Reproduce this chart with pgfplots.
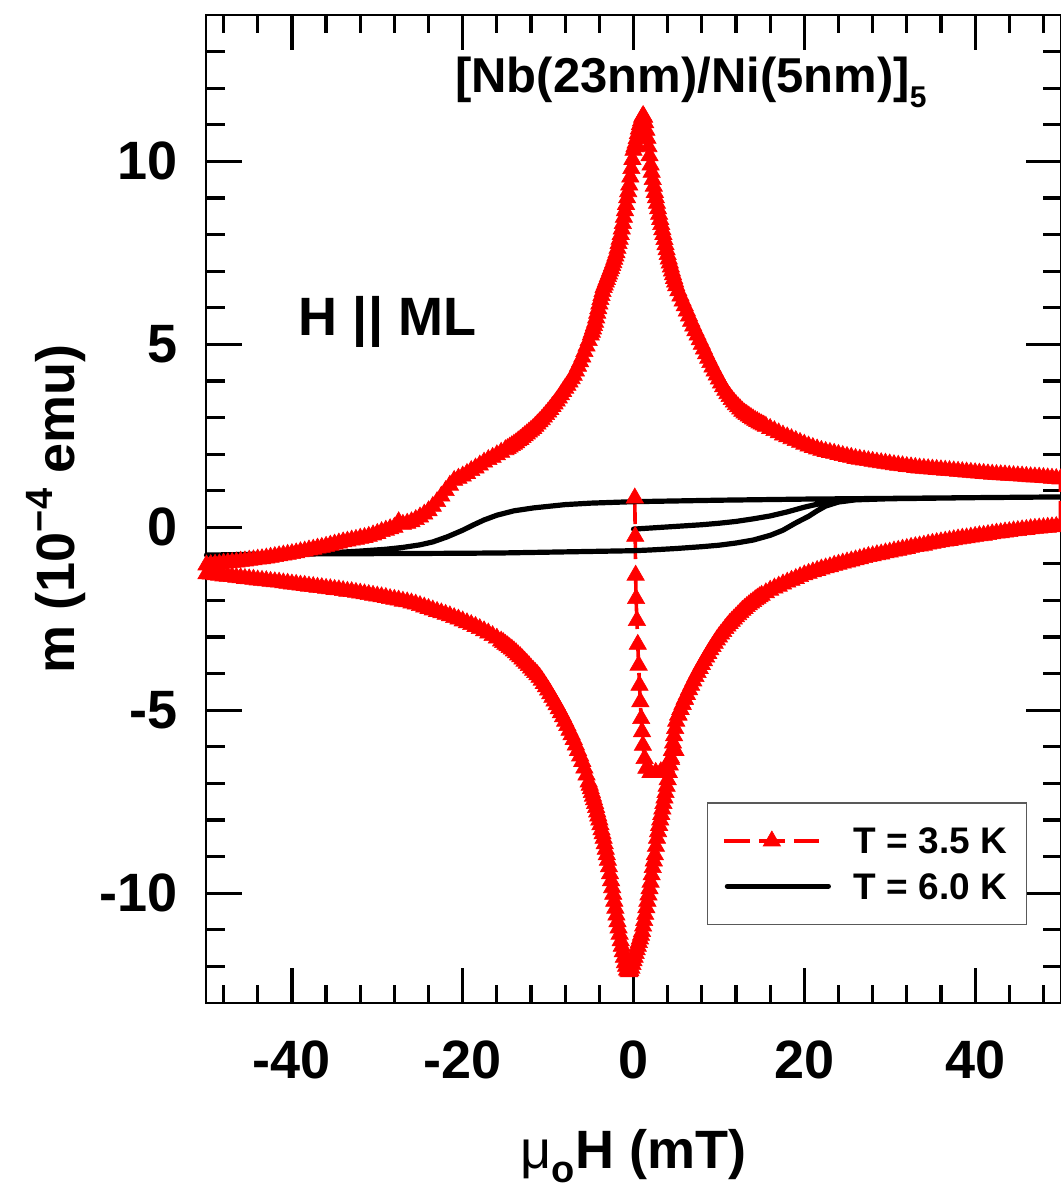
\documentclass[border=0pt]{standalone}
\usepackage{fontspec}
\setmainfont{Liberation Sans}
\usepackage{pgfplots}
\pgfplotsset{compat=1.18}

% legend samples: dashed line with a triangle, and a plain thick line
\pgfplotsset{
  redleg/.style={legend image code/.code={\draw[mark repeat=2,mark phase=2,##1]
    plot coordinates {(0pt,0pt) (23.75pt,0pt) (47.5pt,0pt)};}},
  blackleg/.style={legend image code/.code={\draw[##1] (1.5pt,0pt) -- (52pt,0pt);}},
}

% magnetisation loop at 3.5 K: virgin curve, rising branch, falling branch, rising branch
\pgfplotstableread{
x y
0.15 0.80
0.20 -0.25
0.25 -1.31
0.30 -1.95
0.40 -2.55
0.50 -3.20
0.60 -3.77
0.70 -4.32
0.80 -4.77
0.90 -5.23
1.00 -5.59
1.10 -5.96
1.30 -6.32
1.50 -6.59
2.00 -6.70
2.60 -6.70
3.20 -6.68
3.80 -6.55
4.40 -6.35
4.90 -6.10
5.25 -5.13
5.5 -4.98
5.75 -4.84
6.0 -4.70
6.25 -4.57
6.5 -4.44
6.75 -4.32
7.0 -4.20
7.25 -4.08
7.5 -3.97
7.75 -3.86
8.0 -3.75
8.25 -3.65
8.5 -3.55
8.75 -3.45
9.0 -3.35
9.25 -3.26
9.5 -3.17
9.75 -3.08
10.0 -3.00
10.25 -2.92
10.5 -2.85
10.75 -2.77
11.0 -2.70
11.25 -2.63
11.5 -2.57
11.75 -2.51
12.0 -2.45
12.25 -2.39
12.5 -2.33
12.75 -2.27
13.0 -2.22
13.25 -2.17
13.5 -2.12
13.75 -2.07
14.0 -2.03
14.25 -1.98
14.5 -1.94
14.75 -1.90
15.0 -1.86
15.5 -1.79
16 -1.72
16.5 -1.66
17 -1.61
17.5 -1.55
18 -1.50
18.5 -1.45
19 -1.40
19.5 -1.35
20 -1.30
20.5 -1.26
21 -1.22
21.5 -1.18
22 -1.14
22.5 -1.11
23 -1.08
23.5 -1.04
24 -1.01
24.5 -0.98
25 -0.95
25.5 -0.92
26 -0.89
26.5 -0.86
27 -0.83
27.5 -0.80
28 -0.78
28.5 -0.75
29 -0.73
29.5 -0.70
30 -0.68
30.5 -0.65
31 -0.63
31.5 -0.60
32 -0.58
32.5 -0.55
33 -0.53
33.5 -0.51
34 -0.49
34.5 -0.46
35 -0.44
35.5 -0.42
36 -0.40
36.5 -0.38
37 -0.36
37.5 -0.34
38 -0.32
38.5 -0.30
39 -0.29
39.5 -0.27
40 -0.25
40.5 -0.23
41 -0.22
41.5 -0.20
42 -0.18
42.5 -0.16
43 -0.15
43.5 -0.13
44 -0.12
44.5 -0.10
45 -0.09
45.5 -0.07
46 -0.06
46.5 -0.04
47 -0.03
47.5 -0.02
48 -0.01
48.5 0.00
49 0.01
49.5 0.02
50 0.03
50 1.32
49.5 1.33
49 1.34
48.5 1.35
48 1.36
47.5 1.37
47 1.375
46.5 1.38
46 1.39
45.5 1.40
45 1.405
44.5 1.41
44 1.42
43.5 1.43
43 1.435
42.5 1.44
42 1.45
41.5 1.46
41 1.47
40.5 1.48
40 1.49
39.5 1.50
39 1.51
38.5 1.52
38 1.53
37.5 1.54
37 1.55
36.5 1.56
36 1.57
35.5 1.58
35 1.59
34.5 1.60
34 1.61
33.5 1.62
33 1.635
32.5 1.65
32 1.66
31.5 1.68
31 1.695
30.5 1.71
30 1.73
29.5 1.75
29 1.765
28.5 1.78
28 1.80
27.5 1.82
27 1.84
26.5 1.86
26 1.88
25.5 1.91
25 1.935
24.5 1.96
24 1.99
23.5 2.02
23 2.045
22.5 2.07
22 2.10
21.5 2.14
21 2.18
20.5 2.22
20 2.27
19.5 2.32
19 2.37
18.5 2.42
18 2.47
17.5 2.52
17 2.58
16.5 2.64
16 2.70
15.5 2.76
15.25 2.79
15 2.82
14.75 2.85
14.5 2.89
14.25 2.92
14 2.96
13.75 3.00
13.5 3.04
13.25 3.08
13 3.12
12.75 3.17
12.5 3.23
12.25 3.29
12 3.35
11.75 3.42
11.5 3.49
11.25 3.57
11 3.65
10.75 3.74
10.5 3.84
10.25 3.94
10 4.05
9.75 4.16
9.5 4.27
9.25 4.38
9 4.50
8.75 4.62
8.5 4.74
8.25 4.87
8 5.00
7.75 5.12
7.5 5.25
7.25 5.37
7 5.50
6.75 5.63
6.5 5.77
6.25 5.91
6 6.05
5.75 6.18
5.5 6.32
5.25 6.46
5 6.60
4.875 6.70
4.75 6.80
4.625 6.90
4.5 7.00
4.375 7.11
4.25 7.22
4.125 7.33
4 7.45
3.875 7.58
3.75 7.72
3.625 7.86
3.5 8.00
3.375 8.13
3.25 8.27
3.125 8.41
3 8.55
2.875 8.70
2.75 8.85
2.625 9.00
2.5 9.15
2.375 9.32
2.25 9.50
2.125 9.70
2 9.90
1.875 10.15
1.75 10.40
1.625 10.63
1.5 10.85
1.375 11.05
1.25 11.20
1.125 11.25
1 11.20
0.875 11.10
0.75 11.00
0.625 10.88
0.5 10.75
0.375 10.62
0.25 10.50
0.125 10.40
0 10.30
-0.125 10.05
-0.25 9.80
-0.375 9.57
-0.5 9.35
-0.625 9.17
-0.75 9.00
-0.875 8.82
-1 8.65
-1.125 8.47
-1.25 8.30
-1.375 8.15
-1.5 8.00
-1.625 7.87
-1.75 7.75
-1.875 7.62
-2 7.50
-2.125 7.41
-2.25 7.32
-2.375 7.23
-2.5 7.15
-2.625 7.07
-2.75 7.00
-2.875 6.92
-3 6.85
-3.125 6.77
-3.25 6.70
-3.375 6.62
-3.5 6.55
-3.625 6.44
-3.75 6.33
-3.875 6.22
-4 6.10
-4.125 5.97
-4.25 5.85
-4.375 5.72
-4.5 5.60
-4.625 5.51
-4.75 5.42
-4.875 5.33
-5 5.25
-5.25 5.10
-5.5 4.95
-5.75 4.80
-6 4.65
-6.25 4.52
-6.5 4.40
-6.75 4.27
-7 4.15
-7.25 4.06
-7.5 3.97
-7.75 3.88
-8 3.80
-8.25 3.71
-8.5 3.62
-8.75 3.53
-9 3.45
-9.25 3.37
-9.5 3.30
-9.75 3.22
-10 3.15
-10.25 3.08
-10.5 3.01
-10.75 2.94
-11 2.88
-11.25 2.82
-11.5 2.76
-11.75 2.70
-12 2.65
-12.25 2.60
-12.5 2.55
-12.75 2.50
-13 2.45
-13.25 2.40
-13.5 2.36
-13.75 2.31
-14 2.27
-14.25 2.23
-14.5 2.19
-14.75 2.15
-15 2.12
-15.5 2.05
-16 1.98
-16.5 1.91
-17 1.85
-17.5 1.78
-18 1.70
-18.5 1.62
-19 1.55
-19.5 1.47
-20 1.40
-20.5 1.34
-21 1.28
-21.5 1.15
-22 1.00
-22.5 0.85
-23 0.70
-23.5 0.57
-24 0.45
-24.5 0.36
-25 0.28
-25.5 0.21
-26 0.15
-26.5 0.11
-27 0.08
-27.5 0.15
-28 0.00
-28.5 -0.04
-29 -0.08
-29.5 -0.12
-30 -0.17
-30.5 -0.21
-31 -0.25
-31.5 -0.28
-32 -0.30
-32.5 -0.33
-33 -0.35
-33.5 -0.38
-34 -0.40
-34.5 -0.43
-35 -0.46
-35.5 -0.49
-36 -0.52
-36.5 -0.55
-37 -0.57
-37.5 -0.60
-38 -0.62
-38.5 -0.65
-39 -0.67
-39.5 -0.70
-40 -0.72
-40.5 -0.74
-41 -0.76
-41.5 -0.78
-42 -0.80
-42.5 -0.82
-43 -0.84
-43.5 -0.86
-44 -0.87
-44.5 -0.89
-45 -0.90
-45.5 -0.92
-46 -0.93
-46.5 -0.95
-47 -0.96
-47.5 -0.97
-48 -0.98
-48.5 -1.00
-49 -1.01
-49.5 -1.02
-50 -1.03
-50 -1.27
-49.5 -1.28
-49 -1.30
-48.5 -1.31
-48 -1.33
-47.5 -1.34
-47 -1.35
-46.5 -1.37
-46 -1.38
-45.5 -1.40
-45 -1.41
-44.5 -1.42
-44 -1.44
-43.5 -1.45
-43 -1.46
-42.5 -1.48
-42 -1.49
-41.5 -1.50
-41 -1.52
-40.5 -1.53
-40 -1.55
-39.5 -1.56
-39 -1.58
-38.5 -1.59
-38 -1.61
-37.5 -1.62
-37 -1.64
-36.5 -1.65
-36 -1.67
-35.5 -1.68
-35 -1.70
-34.5 -1.71
-34 -1.73
-33.5 -1.75
-33 -1.76
-32.5 -1.78
-32 -1.80
-31.5 -1.82
-31 -1.84
-30.5 -1.86
-30 -1.88
-29.5 -1.90
-29 -1.92
-28.5 -1.95
-28 -1.97
-27.5 -1.99
-27 -2.02
-26.5 -2.04
-26 -2.07
-25.5 -2.10
-25 -2.14
-24.5 -2.18
-24 -2.22
-23.5 -2.26
-23 -2.30
-22.5 -2.34
-22 -2.38
-21.5 -2.42
-21 -2.47
-20.5 -2.51
-20 -2.56
-19.5 -2.61
-19 -2.66
-18.5 -2.71
-18 -2.77
-17.5 -2.83
-17 -2.89
-16.5 -2.96
-16 -3.03
-15.5 -3.11
-15.25 -3.15
-15 -3.20
-14.75 -3.24
-14.5 -3.29
-14.25 -3.33
-14 -3.38
-13.75 -3.43
-13.5 -3.49
-13.25 -3.54
-13 -3.60
-12.75 -3.66
-12.5 -3.72
-12.25 -3.78
-12 -3.85
-11.75 -3.91
-11.5 -3.97
-11.25 -4.03
-11 -4.10
-10.75 -4.18
-10.5 -4.27
-10.25 -4.36
-10 -4.45
-9.75 -4.55
-9.5 -4.65
-9.25 -4.75
-9 -4.85
-8.75 -4.96
-8.5 -5.07
-8.25 -5.18
-8 -5.30
-7.75 -5.42
-7.5 -5.55
-7.25 -5.67
-7 -5.80
-6.75 -5.95
-6.5 -6.10
-6.25 -6.25
-6 -6.40
-5.75 -6.58
-5.5 -6.77
-5.25 -6.96
-5.125 -7.05
-5 -7.15
-4.875 -7.25
-4.75 -7.35
-4.625 -7.45
-4.5 -7.55
-4.375 -7.66
-4.25 -7.78
-4.125 -7.89
-4 -8.00
-3.875 -8.13
-3.75 -8.27
-3.625 -8.38
-3.5 -8.50
-3.375 -8.65
-3.25 -8.80
-3.125 -8.95
-3 -9.10
-2.875 -9.28
-2.75 -9.47
-2.625 -9.66
-2.5 -9.85
-2.375 -10.03
-2.25 -10.22
-2.125 -10.41
-2 -10.60
-1.875 -10.78
-1.75 -10.95
-1.625 -11.12
-1.5 -11.30
-1.375 -11.45
-1.25 -11.60
-1.125 -11.75
-1 -11.90
-0.875 -12.00
-0.75 -12.10
-0.625 -12.13
-0.5 -12.15
-0.375 -12.12
-0.25 -12.05
-0.125 -11.95
0 -11.85
0.125 -11.75
0.25 -11.65
0.375 -11.55
0.5 -11.45
0.625 -11.35
0.75 -11.25
0.875 -11.15
1.0 -11.05
1.125 -10.90
1.25 -10.75
1.375 -10.58
1.5 -10.40
1.625 -10.22
1.75 -10.05
1.875 -9.88
2.0 -9.70
2.125 -9.50
2.25 -9.30
2.375 -9.12
2.5 -8.95
2.625 -8.72
2.75 -8.50
2.875 -8.32
3.0 -8.15
3.125 -8.00
3.25 -7.85
3.375 -7.70
3.5 -7.55
3.625 -7.40
3.75 -7.25
3.875 -7.08
4.0 -6.90
4.125 -6.70
4.25 -6.50
4.375 -6.30
4.5 -6.10
4.625 -5.90
4.75 -5.70
4.875 -5.50
5.0 -5.30
5.25 -5.13
5.5 -4.98
5.75 -4.84
6.0 -4.70
}\lowT

% magnetisation loop at 6.0 K
\pgfplotstableread{
x y
0 -0.05
2 -0.02
4 0.01
6 0.04
8 0.07
10 0.11
12 0.16
14 0.23
16 0.31
18 0.42
20 0.55
21.5 0.63
23 0.70
25 0.75
30 0.78
35 0.80
40 0.81
45 0.82
50 0.83
40 0.81
30 0.79
20 0.77
10 0.74
5 0.72
0 0.70
-5 0.66
-8 0.62
-11.7 0.53
-14 0.45
-16 0.33
-17.5 0.20
-18.7 0.07
-20 -0.08
-21.8 -0.26
-23.5 -0.40
-25 -0.48
-27 -0.55
-29 -0.60
-32 -0.65
-35 -0.69
-40 -0.72
-45 -0.74
-50 -0.76
-40 -0.73
-30 -0.72
-20 -0.71
-15 -0.70
-10 -0.68
-5 -0.66
0 -0.64
2 -0.62
5 -0.58
8 -0.53
10 -0.49
12 -0.43
14 -0.35
16 -0.22
17.5 -0.08
19 0.12
20.5 0.30
21.5 0.45
22.5 0.58
24 0.69
26 0.75
30 0.78
40 0.81
50 0.83
}\highT

\begin{document}
\begin{tikzpicture}
\begin{axis}[
  name=ax,
  scale only axis,
  width=427pt, height=494pt,
  xmin=-50, xmax=50, ymin=-13, ymax=14,
  clip=false,
  xtick={-40,-20,0,20,40},
  xticklabels={-40,-20,0,20,40},
  ytick={-10,-5,0,5,10},
  yticklabels={-10,-5,0,5,10},
  minor xtick={-48,-44,-36,-32,-28,-24,-16,-12,-8,-4,4,8,12,16,24,28,32,36,44,48},
  minor ytick={-12,-11,-9,-8,-7,-6,-4,-3,-2,-1,1,2,3,4,6,7,8,9,11,12,13},
  tick align=inside,
  major tick length=17.5pt,
  minor tick length=9pt,
  tick style={black, line width=1.6pt},
  axis line style={line width=1pt},
  ticklabel style={font=\fontsize{27}{30}\selectfont\bfseries},
  yticklabel style={inner sep=0pt, xshift=-14.5pt},
  xticklabel style={inner sep=0pt, yshift=-18.5pt},
  label style={font=\fontsize{27}{30}\selectfont\bfseries},
  xlabel={{\mdseries μ}\raisebox{-7pt}{\fontsize{19}{19}\selectfont o}H (mT)},
  ylabel={m (10\raisebox{11pt}{\fontsize{19}{19}\selectfont −4} emu)},
  xlabel style={at={(axis description cs:0.5,-0.167)}, anchor=base},
  ylabel style={at={(axis description cs:-0.154,0.5)}, anchor=base},
  legend cell align=left,
  legend style={at={(axis cs:8.6,-7.52)}, anchor=north west,
    draw=black!65, line width=0.6pt, fill=white,
    font=\fontsize{18.5}{22}\selectfont\bfseries,
    inner xsep=7.5pt, inner ysep=12.5pt, row sep=9.7pt,
    nodes={inner sep=0pt, text depth=0pt},
    /tikz/every odd column/.append style={column sep=11.5pt}},
]
\addplot[red, line width=1.8pt, dash pattern=on 13pt off 4.5pt,
  mark=triangle*, mark size=5pt, mark options={solid, line width=0.3pt},
  redleg]
  table[x=x, y=y] {\lowT};
\addlegendentry{T = 3.5 K\hspace*{2pt}}
\addplot[black, line width=2.6pt, line join=round, line cap=round, blackleg]
  table[x=x, y=y] {\highT};
\addlegendentry{T = 6.0 K\hspace*{2pt}}

\node[anchor=base west, font=\fontsize{24.5}{28}\selectfont\bfseries]
  at (rel axis cs:0.283,0.922)
  {[Nb(23nm)/Ni(5nm)]\raisebox{-7.5pt}{\fontsize{15}{15}\selectfont 5}};
\node[anchor=base west, font=\fontsize{27}{30}\selectfont\bfseries]
  at (rel axis cs:0.100,0.676) {H || ML};
\end{axis}
\pgfresetboundingbox
\path[use as bounding box]
  ([xshift=-103.25pt,yshift=-94pt]ax.south west)
  rectangle ([xshift=-0.25pt,yshift=7.5pt]ax.north east);
\end{tikzpicture}
\end{document}
